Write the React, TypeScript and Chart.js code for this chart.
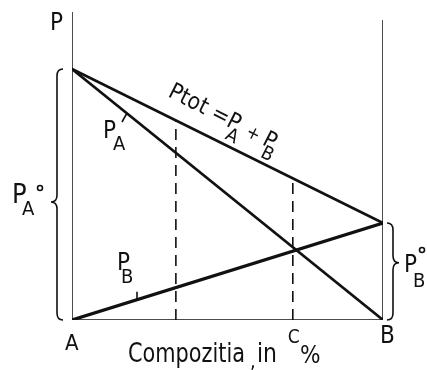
import React, { useEffect, useRef } from "react";
import { Chart, registerables } from "chart.js";
Chart.register(...registerables);

// Composition axis (0 = pure A, 100 = pure B) and pressure axis values
const composition = [0, 100];
const PA0 = 81.5; // vapour pressure of pure A
const PB0 = 31.5; // vapour pressure of pure B
const axisTopLeft = 100;
const axisTopRight = 97.4;
const dashedX = [33.4, 71];

const ptot = (x: number) => PA0 + ((PB0 - PA0) * x) / 100;

const FONT = '"DejaVu Sans Condensed", "DejaVu Sans", sans-serif';

export default function App() {
  const ref = useRef<HTMLCanvasElement | null>(null);
  useEffect(() => {
    if (!ref.current) return;
    const ink = "#111";
    const line = (pts: { x: number; y: number }[], w: number, dash: number[] = []) => ({
      data: pts,
      showLine: true,
      borderColor: ink,
      borderWidth: w,
      borderDash: dash,
      pointRadius: 0,
      fill: false,
    });
    const labels = {
      id: "labels",
      afterDraw(chart: any) {
        const ctx = chart.ctx as CanvasRenderingContext2D;
        const xs = chart.scales.x;
        const ys = chart.scales.y;
        const px = (v: number) => xs.getPixelForValue(v);
        const py = (v: number) => ys.getPixelForValue(v);
        ctx.save();
        ctx.fillStyle = ink;
        ctx.strokeStyle = ink;
        ctx.lineWidth = 1.6;
        ctx.textBaseline = "alphabetic";
        const t = (s: string, x: number, y: number, size: number, mw?: number) => {
          ctx.font = `${size}px ${FONT}`;
          if (mw) ctx.fillText(s, x, y, mw);
          else ctx.fillText(s, x, y);
        };
        const seg = (x1: number, y1: number, x2: number, y2: number) => {
          ctx.beginPath();
          ctx.moveTo(x1, y1);
          ctx.lineTo(x2, y2);
          ctx.stroke();
        };
        const deg = (x: number, y: number) => {
          ctx.beginPath();
          ctx.arc(x, y, 2.5, 0, Math.PI * 2);
          ctx.stroke();
        };
        const brace = (xsp: number, yTop: number, yBot: number, d: number, frac: number) => {
          const hook = 6, tip = 6, r = 7;
          const ym = yTop + (yBot - yTop) * frac;
          ctx.beginPath();
          ctx.moveTo(xsp - d * hook, yTop);
          ctx.quadraticCurveTo(xsp, yTop, xsp, yTop + r);
          ctx.lineTo(xsp, ym - r);
          ctx.quadraticCurveTo(xsp, ym, xsp + d * tip, ym);
          ctx.quadraticCurveTo(xsp, ym, xsp, ym + r);
          ctx.lineTo(xsp, yBot - r);
          ctx.quadraticCurveTo(xsp, yBot, xsp - d * hook, yBot);
          ctx.stroke();
        };
        const x0 = px(0), x1 = px(100), y0 = py(0);
        // braces
        brace(x0 - 15, py(PA0), y0, -1, 0.53);
        brace(x1 + 10, py(PB0), y0, 1, 0.41);
        // axis labels
        t("P", x0 - 22, 30, 24);
        t("A", x0 - 7, y0 + 30, 22);
        t("B", x1 - 3, y0 + 23, 24);
        // P_A°
        t("P", 12, 203, 27);
        t("A", 22, 215, 20);
        deg(40, 188);
        // P_B°
        t("P", 404, 272, 24);
        t("B", 413, 287, 20);
        deg(422, 250);
        // P_A line label
        t("P", 103, 138, 24);
        t("A", 113, 150, 20);
        seg(122, 122, 127, 113);
        // P_B line label
        t("P", 117, 270, 24);
        t("B", 121, 283, 20);
        seg(137, py(PB0 * 0.21) - 8, 137, py(PB0 * 0.21));
        // Ptot label (rotated along line)
        ctx.save();
        ctx.translate(167, 96);
        ctx.rotate(0.47);
        let cx = 0;
        const rt = (s: string, size: number, dy = 0) => {
          ctx.font = `${size}px ${FONT}`;
          ctx.fillText(s, cx, dy);
          cx += ctx.measureText(s).width;
        };
        rt("Ptot", 23);
        rt(" =", 23);
        const pA = cx;
        rt("P", 23);
        cx = pA + 5;
        rt("A", 19, 12);
        rt(" + ", 18);
        const pB = cx;
        rt("P", 23);
        cx = pB + 4;
        rt("B", 19, 12);
        ctx.restore();
        // x axis title
        t("Compozitia", 128, 362, 26, 117);
        t(",", 250, 368, 20);
        t("in", 257, 362, 26, 20);
        t("C", px(dashedX[1]) - 5, 343, 19);
        t("%", 300, 363, 24, 27);
        ctx.restore();
      },
    };
    const chart = new Chart(ref.current, {
      type: "scatter",
      data: {
        datasets: [
          line([{ x: composition[0], y: 0 }, { x: composition[0], y: axisTopLeft }], 1.5),
          line([{ x: composition[1], y: 0 }, { x: composition[1], y: axisTopRight }], 1.5),
          line([{ x: composition[0], y: 0 }, { x: composition[1], y: 0 }], 1.6),
          line([{ x: composition[0], y: PA0 }, { x: composition[1], y: PB0 }], 2.6),
          line([{ x: composition[0], y: PA0 }, { x: composition[1], y: 0 }], 2.6),
          line([{ x: composition[0], y: 0 }, { x: composition[1], y: PB0 }], 3.2),
          ...dashedX.map((d) => line([{ x: d, y: 0 }, { x: d, y: ptot(d) }], 1.6, [11, 7])),
        ] as any,
      },
      options: {
        animation: false,
        responsive: true,
        maintainAspectRatio: false,
        layout: { padding: { left: 72, right: 44, top: 12, bottom: 50 } },
        plugins: { legend: { display: false }, tooltip: { enabled: false } },
        scales: {
          x: { type: "linear", min: 0, max: 100, display: false },
          y: { type: "linear", min: 0, max: 100, display: false },
        },
      },
      plugins: [labels],
    });
    return () => chart.destroy();
  }, []);
  return (
    <div style={{ position: "fixed", left: 0, top: 0, width: 427, height: 370, background: "#fff" }}>
      <canvas ref={ref} />
    </div>
  );
}
